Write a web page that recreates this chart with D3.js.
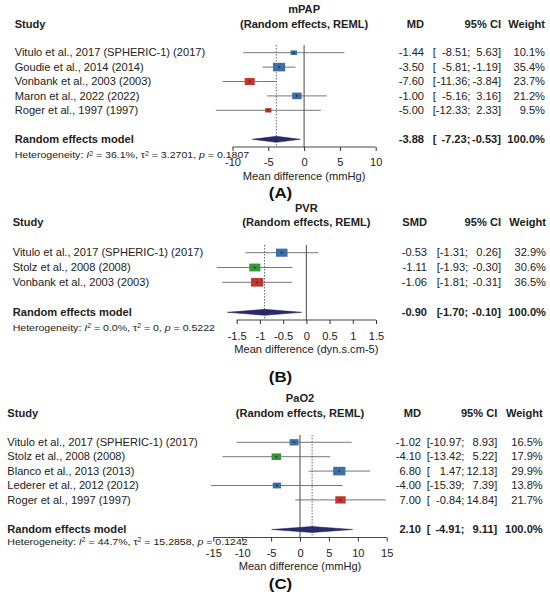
<!DOCTYPE html>
<html>
<head>
<meta charset="utf-8">
<script src="https://cdn.jsdelivr.net/npm/d3@7"></script>
<style>
  body { margin: 0; background: #fff; }
  svg { display: block; font-family: "Liberation Sans", Arial, sans-serif; }
</style>
</head>
<body>
<svg id="chart" width="550" height="601"></svg>
<script>
// ---- data ----
var titles = ["mPAP", "PVR", "PaO2"];
var effectLabels = ["MD", "SMD", "MD"];
var axisTitles = ["Mean difference (mmHg)", "Mean difference (dyn.s.cm-5)", "Mean difference (mmHg)"];
var panelTags = ["(A)", "(B)", "(C)"];

var studiesA = ["Vitulo et al., 2017 (SPHERIC-1) (2017)", "Goudie et al., 2014 (2014)",
  "Vonbank et al., 2003 (2003)", "Maron et al., 2022 (2022)", "Roger et al., 1997 (1997)"];
var estA = [-1.44, -3.50, -7.60, -1.00, -5.00];
var lowA = [-8.51, -5.81, -11.36, -5.16, -12.33];
var highA = [5.63, -1.19, -3.84, 3.16, 2.33];
var weightA = [10.1, 35.4, 23.7, 21.2, 9.5];
var groupA = ["g1", "g1", "g2", "g1", "g2"];
var pooledA = [-3.88, -7.23, -0.53];
var hetA = ["36.1%", "3.2701", "0.1807"];
var ticksA = [-10, -5, 0, 5, 10];

var studiesB = ["Vitulo et al., 2017 (SPHERIC-1) (2017)", "Stolz et al., 2008 (2008)",
  "Vonbank et al., 2003 (2003)"];
var estB = [-0.53, -1.11, -1.06];
var lowB = [-1.31, -1.93, -1.81];
var highB = [0.26, -0.30, -0.31];
var weightB = [32.9, 30.6, 36.5];
var groupB = ["g1", "g3", "g2"];
var pooledB = [-0.90, -1.70, -0.10];
var hetB = ["0.0%", "0", "0.5222"];
var ticksB = [-1.5, -1, -0.5, 0, 0.5, 1, 1.5];

var studiesC = ["Vitulo et al., 2017 (SPHERIC-1) (2017)", "Stolz et al., 2008 (2008)",
  "Blanco et al., 2013 (2013)", "Lederer et al., 2012 (2012)", "Roger et al., 1997 (1997)"];
var estC = [-1.02, -4.10, 6.80, -4.00, 7.00];
var lowC = [-10.97, -13.42, 1.47, -15.39, -0.84];
var highC = [8.93, 5.22, 12.13, 7.39, 14.84];
var weightC = [16.5, 17.9, 29.9, 13.8, 21.7];
var groupC = ["g1", "g3", "g1", "g1", "g2"];
var pooledC = [2.10, -4.91, 9.11];
var hetC = ["44.7%", "15.2858", "0.1242"];
var ticksC = [-15, -10, -5, 0, 5, 10, 15];

// ---- layout of each panel ----
var layouts = [
  { lx: 14.7, titleY: 9.3, headY: 24, row0: 52.7, step: 14.4, sumY: 139.3, hetY: 155,
    axisY: 147, tickY: 15, axTitleY: 176.7, tagY: 192, x0: 232.5, x1: 375.7, top: 45,
    mdR: 424, ciL: 432.7, ciM: 470.4, ciR: 501, wR: 545 },
  { lx: 12.7, titleY: 208.3, headY: 222.3, row0: 252.7, step: 14.8, sumY: 312.3, hetY: 327.7,
    axisY: 320, tickY: 16.5, axTitleY: 349, tagY: 376, x0: 236.7, x1: 376, top: 245,
    mdR: 427, ciL: 436.7, ciM: 468.2, ciR: 501, wR: 546 },
  { lx: 7.3, titleY: 398.3, headY: 413.3, row0: 442.3, step: 14.4, sumY: 529.5, hetY: 541.3,
    axisY: 537.5, tickY: 15.4, axTitleY: 566.7, tagY: 583, x0: 213.3, x1: 386.7, top: 435,
    mdR: 421, ciL: 426.7, ciM: 464.4, ciR: 497.3, wR: 542.7 }
];

var panels = [
  { studies: studiesA, est: estA, low: lowA, high: highA, w: weightA, grp: groupA, pooled: pooledA, het: hetA, ticks: ticksA, domain: [-10, 10] },
  { studies: studiesB, est: estB, low: lowB, high: highB, w: weightB, grp: groupB, pooled: pooledB, het: hetB, ticks: ticksB, domain: [-1.5, 1.5] },
  { studies: studiesC, est: estC, low: lowC, high: highC, w: weightC, grp: groupC, pooled: pooledC, het: hetC, ticks: ticksC, domain: [-15, 15] }
];

var color = d3.scaleOrdinal().domain(["g1", "g2", "g3"]).range(["#3d6fa6", "#c4352e", "#35983c"]);

var svg = d3.select("#chart");
var FS = 10.2, SX = 1.09, INK = "#222";

/* text with a slight horizontal stretch, as in the source image */
function txt(g, x, y, s, anchor, bold, size) {
  return g.append("text")
    .attr("transform", "translate(" + x + "," + y + ") scale(" + SX + ",1)")
    .attr("dy", "0.36em")
    .attr("text-anchor", anchor || "start")
    .attr("font-weight", bold ? "bold" : "normal")
    .attr("font-size", size || FS)
    .attr("fill", INK)
    .text(s);
}

function fmt(v) { return v.toFixed(2); }
function ci(g, L, y, lo, hi, bold) {
  txt(g, L.ciL, y, "[", "start", bold);
  txt(g, L.ciM, y, fmt(lo) + ";", "end", bold);
  txt(g, L.ciR, y, fmt(hi) + "]", "end", bold);
}

panels.forEach(function (p, i) {
  var L = layouts[i];
  var g = svg.append("g");
  var x = d3.scaleLinear().domain(p.domain).range([L.x0, L.x1]);
  var mid = (L.x0 + L.x1) / 2;
  var maxW = d3.max(p.w);
  var side = d3.scaleSqrt().domain([0, maxW]).range([0, 12.2]);
  var rowY = function (k) { return L.row0 + k * L.step; };

  // headers
  txt(g, mid, L.titleY, titles[i], "middle", true);
  txt(g, L.lx, L.headY, "Study", "start", true);
  txt(g, mid, L.headY, "(Random effects, REML)", "middle", true);
  txt(g, L.mdR, L.headY, effectLabels[i], "end", true);
  txt(g, L.ciR, L.headY, "95% CI", "end", true);
  txt(g, L.wR, L.headY, "Weight", "end", true);

  // reference lines
  g.append("line").attr("x1", x(0)).attr("x2", x(0)).attr("y1", L.top).attr("y2", L.axisY)
    .attr("stroke", "#333").attr("stroke-width", 0.9);
  g.append("line").attr("x1", x(p.pooled[0])).attr("x2", x(p.pooled[0])).attr("y1", L.top).attr("y2", L.axisY)
    .attr("stroke", "#444").attr("stroke-width", 0.8).attr("stroke-dasharray", "1.5,1.5");

  // studies
  p.studies.forEach(function (s, k) {
    var y = rowY(k);
    txt(g, L.lx, y, s);
    g.append("line").attr("x1", x(p.low[k])).attr("x2", x(p.high[k])).attr("y1", y).attr("y2", y)
      .attr("stroke", "#555").attr("stroke-width", 0.8);
    var sw = side(p.w[k]), sh = sw * 0.7;
    g.append("rect").attr("x", x(p.est[k]) - sw / 2).attr("y", y - sh / 2)
      .attr("width", sw).attr("height", sh).attr("fill", color(p.grp[k]));
    g.append("rect").attr("x", x(p.est[k]) - 1).attr("y", y - 1).attr("width", 2).attr("height", 2)
      .attr("fill", "#1d2a44").attr("opacity", 0.7);
    txt(g, L.mdR, y, fmt(p.est[k]), "end");
    ci(g, L, y, p.low[k], p.high[k]);
    txt(g, L.wR, y, p.w[k].toFixed(1) + "%", "end");
  });

  // pooled estimate
  var dy = L.sumY;
  g.append("path")
    .attr("d", "M" + x(p.pooled[1]) + "," + dy + "L" + x(p.pooled[0]) + "," + (dy - 3) +
      "L" + x(p.pooled[2]) + "," + dy + "L" + x(p.pooled[0]) + "," + (dy + 3) + "Z")
    .attr("fill", "#29296b").attr("stroke", "#1c1c50").attr("stroke-width", 0.5);
  txt(g, L.lx, dy, "Random effects model", "start", true);
  txt(g, L.mdR, dy, fmt(p.pooled[0]), "end", true);
  ci(g, L, dy, p.pooled[1], p.pooled[2], true);
  txt(g, L.wR, dy, "100.0%", "end", true);

  // heterogeneity
  var h = txt(g, L.lx, L.hetY, "", "start", false, 9.7).text(null);
  h.append("tspan").text("Heterogeneity: ");
  h.append("tspan").attr("font-style", "italic").text("I");
  h.append("tspan").attr("font-size", 6.3).attr("baseline-shift", "super").text("2");
  h.append("tspan").text(" = " + p.het[0] + ", \u03c4");
  h.append("tspan").attr("font-size", 6.3).attr("baseline-shift", "super").text("2");
  h.append("tspan").text(" = " + p.het[1] + ", ");
  h.append("tspan").attr("font-style", "italic").text("p");
  h.append("tspan").text(" = " + p.het[2]);

  // axis
  var ax = g.append("g").attr("transform", "translate(0," + L.axisY + ")")
    .call(d3.axisBottom(x).tickValues(p.ticks).tickSize(4).tickFormat(function (d) { return String(d); }));
  ax.select(".domain").attr("stroke", "#333").attr("stroke-width", 0.9)
    .attr("d", "M" + L.x0 + ",0H" + L.x1);
  ax.selectAll(".tick line").attr("stroke", "#333");
  ax.selectAll(".tick text").attr("y", null).attr("dy", "0.36em")
    .attr("transform", "translate(0," + L.tickY + ") scale(" + SX + ",1)")
    .attr("font-size", FS).attr("fill", INK).attr("font-family", null);
  txt(g, mid, L.axTitleY, axisTitles[i], "middle");

  // panel tag
  txt(g, 280.5, L.tagY, panelTags[i], "middle", true, 15.5).attr("fill", "#111");
});
</script>
</body>
</html>
